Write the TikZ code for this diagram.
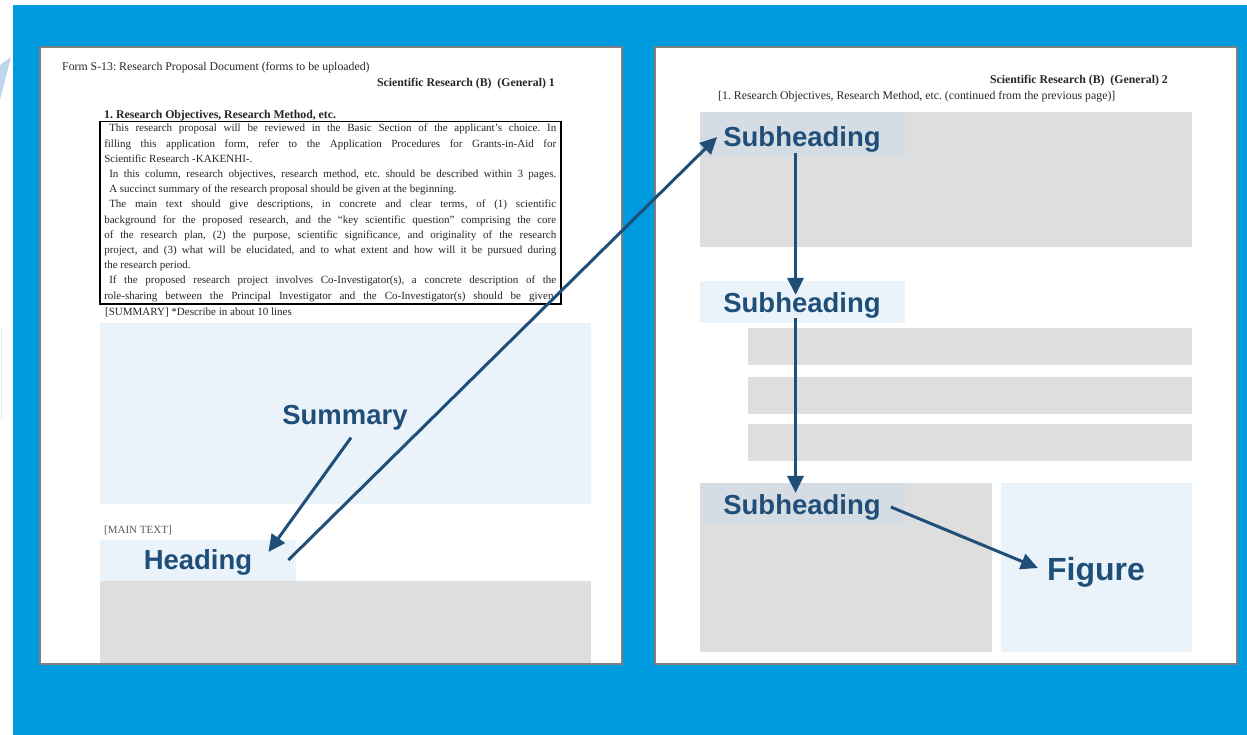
\documentclass[tikz,border=0pt]{standalone}
\usepackage{fontspec}
\setmainfont{Liberation Serif}
\newfontfamily\labelfont{Liberation Sans}
\usetikzlibrary{arrows.meta}
\frenchspacing

\definecolor{bgblue}{RGB}{0,154,222}
\definecolor{navy}{RGB}{31,78,121}
\definecolor{paleblue}{RGB}{235,243,250}
\definecolor{blockgray}{RGB}{222,222,222}
\definecolor{subgray}{RGB}{213,220,228}
\definecolor{pagegray}{RGB}{128,128,128}
\definecolor{sliver}{RGB}{190,214,237}

\newcommand{\jline}[1]{\makebox[452pt][s]{\spaceskip=.25em plus .6em minus .1em\relax #1}}
\newcommand{\rline}[1]{\makebox[452pt][l]{#1}}

\begin{document}
\begin{tikzpicture}[x=1pt,y=-1pt,
    sheet/.style={fill=white,draw=pagegray,line width=2pt},
    formtext/.style={inner sep=0pt,font=\fontsize{11.8}{14}\selectfont,text=black!85},
    bluetag/.style={inner sep=0pt,font=\labelfont\bfseries\fontsize{27.5}{30}\selectfont,text=navy},
    flow/.style={navy,line width=3pt,-{Triangle[length=17pt,width=16pt]}}]
    \useasboundingbox (0,0) rectangle (1247,735);
    \fill[white] (0,0) rectangle (1247,735);
    \fill[sliver] (0,65) -- (11,57) -- (0,100) -- cycle;
    \draw[sliver!40,line width=1.5pt] (1.5,328) -- (1.5,420);
    \fill[bgblue] (13,5) rectangle (1247,735);

    % page 1
    \draw[sheet] (40,47) rectangle (622,664);
    \node[formtext,anchor=base west] at (62,71) {Form S-13: Research Proposal Document (forms to be uploaded)};
    \node[formtext,anchor=base east,font=\fontsize{11.8}{14}\selectfont\bfseries] at (555,87) {Scientific Research (B)\ \ (General) 1};
    \node[formtext,anchor=base west,font=\fontsize{11.8}{14}\selectfont\bfseries] at (104,119) {1. Research Objectives, Research Method, etc.};
    \node[draw,line width=1.5pt,anchor=north west,inner xsep=4.5pt,inner ysep=2.5pt,align=left,
      font=\fontsize{11}{15.2}\selectfont,text=black!85,minimum height=181pt] (objectives) at (99,121) {%
      \jline{\hspace*{5pt}This research proposal will be reviewed in the Basic Section of the applicant's choice. In}\\
      \jline{filling this application form, refer to the Application Procedures for Grants-in-Aid for}\\
      \rline{Scientific Research -KAKENHI-.}\\
      \jline{\hspace*{5pt}In this column, research objectives, research method, etc. should be described within 3 pages.}\\
      \rline{\hspace*{5pt}A succinct summary of the research proposal should be given at the beginning.}\\
      \jline{\hspace*{5pt}The main text should give descriptions, in concrete and clear terms, of (1) scientific}\\
      \jline{background for the proposed research, and the “key scientific question” comprising the core}\\
      \jline{of the research plan, (2) the purpose, scientific significance, and originality of the research}\\
      \jline{project, and (3) what will be elucidated, and to what extent and how will it be pursued during}\\
      \rline{the research period.}\\
      \jline{\hspace*{5pt}If the proposed research project involves Co-Investigator(s), a concrete description of the}\\
      \jline{role-sharing between the Principal Investigator and the Co-Investigator(s) should be given.}};
    \node[formtext,anchor=base west,font=\fontsize{11}{13}\selectfont] at (105,316) {[SUMMARY] *Describe in about 10 lines};
    \fill[paleblue] (100,323) rectangle (591,504);
    \node[bluetag] (summary) at (345,418) {Summary};
    \node[formtext,anchor=base west,font=\fontsize{11}{13}\selectfont,text=black!65] at (104,533) {[MAIN TEXT]};
    \fill[paleblue] (100,540) rectangle (296,581);
    \node[bluetag] (heading) at (198,562) {Heading};
    \fill[blockgray] (100,581) rectangle (591,663);

    % page 2
    \draw[sheet] (655,47) rectangle (1237,664);
    \node[formtext,anchor=base east,font=\fontsize{11.8}{14}\selectfont\bfseries] at (1168,84) {Scientific Research (B)\ \ (General) 2};
    \node[formtext,anchor=base west] at (718,100) {[1. Research Objectives, Research Method, etc. (continued from the previous page)]};
    \fill[blockgray] (700,112) rectangle (1192,247);
    \fill[subgray] (700,112) rectangle (905,157);
    \node[bluetag] (subtop) at (802,139) {Subheading};
    \fill[paleblue] (700,281) rectangle (905,323);
    \node[bluetag] (submid) at (802,305) {Subheading};
    \foreach \y in {328,377,424}
      \fill[blockgray] (748,\y) rectangle (1192,\y+36.5);
    \fill[blockgray] (700,483) rectangle (992,652);
    \fill[subgray] (700,483) rectangle (905,525);
    \node[bluetag] (sublow) at (802,507) {Subheading};
    \fill[paleblue] (1001,483) rectangle (1192,652);
    \node[bluetag,font=\labelfont\bfseries\fontsize{32}{35}\selectfont] (figure) at (1096,572) {Figure};

    % arrows
    \draw[flow] ([shift={(6,7)}]summary.south) -- ([shift={(16,3)}]heading.north east);
    \draw[flow] ([shift={(36,-2)}]heading.east) -- ([shift={(-6,-2)}]subtop.west);
    \draw[flow] ([shift={(-6.5,1)}]subtop.south) -- ([shift={(-6.5,3)}]submid.north);
    \draw[flow] ([shift={(-6.5,0)}]submid.south) -- ([shift={(-6.5,-1)}]sublow.north);
    \draw[flow] ([shift={(10,0)}]sublow.east) -- ([shift={(-9,-4)}]figure.west);
\end{tikzpicture}
\end{document}
